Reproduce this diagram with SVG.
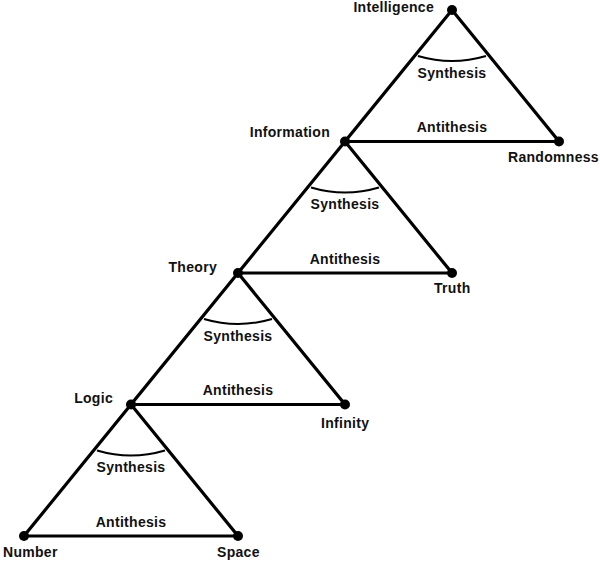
<svg xmlns="http://www.w3.org/2000/svg" width="600" height="562" viewBox="0 0 600 562">
<style>
.e{stroke:#000;stroke-width:3.2;fill:none;stroke-linecap:round}
.a{stroke:#000;stroke-width:2;fill:none}
.d{fill:#000}
text{font-family:"Liberation Sans",Arial,sans-serif;font-weight:bold;font-size:14px;fill:#111;letter-spacing:0.3px}
.m{text-anchor:middle}
.r{text-anchor:end}
</style>
<rect width="600" height="562" fill="#fff"/>
<g id="connectors">
<path class="e" d="M452 10 L345 141.5 L559 141.5 Z"/>
<path class="e" d="M345 141.5 L238 273 L452 273 Z"/>
<path class="e" d="M238 273 L131 404.5 L345 404.5 Z"/>
<path class="e" d="M131 404.5 L24 536 L238 536 Z"/>
<path class="a" d="M418 56 Q452 66 486 56"/>
<path class="a" d="M311 187.5 Q345 197.5 379 187.5"/>
<path class="a" d="M204 319 Q238 329 272 319"/>
<path class="a" d="M97 450.5 Q131 460.5 165 450.5"/>
<text class="m" x="452" y="78">Synthesis</text>
<text class="m" x="452" y="132">Antithesis</text>
<text class="m" x="345" y="209">Synthesis</text>
<text class="m" x="345" y="263.5">Antithesis</text>
<text class="m" x="238" y="340.5">Synthesis</text>
<text class="m" x="238" y="395">Antithesis</text>
<text class="m" x="131" y="472">Synthesis</text>
<text class="m" x="131" y="526.5">Antithesis</text>
</g>
<g id="intelligence"><circle class="d" cx="452" cy="10" r="5"/><text class="r" x="434" y="12">Intelligence</text></g>
<g id="information"><circle class="d" cx="345" cy="141.5" r="5"/><text class="r" x="330" y="137">Information</text></g>
<g id="randomness"><circle class="d" cx="559" cy="141.5" r="5"/><text x="508" y="162">Randomness</text></g>
<g id="theory"><circle class="d" cx="238" cy="273" r="5"/><text class="r" x="217" y="272">Theory</text></g>
<g id="truth"><circle class="d" cx="452" cy="273" r="5"/><text x="434" y="293">Truth</text></g>
<g id="logic"><circle class="d" cx="131" cy="404.5" r="5"/><text class="r" x="113" y="403">Logic</text></g>
<g id="infinity"><circle class="d" cx="345" cy="404.5" r="5"/><text x="321" y="428">Infinity</text></g>
<g id="number"><circle class="d" cx="24" cy="536" r="5"/><text x="3" y="557">Number</text></g>
<g id="space"><circle class="d" cx="238" cy="536" r="5"/><text x="217" y="557">Space</text></g>
</svg>
